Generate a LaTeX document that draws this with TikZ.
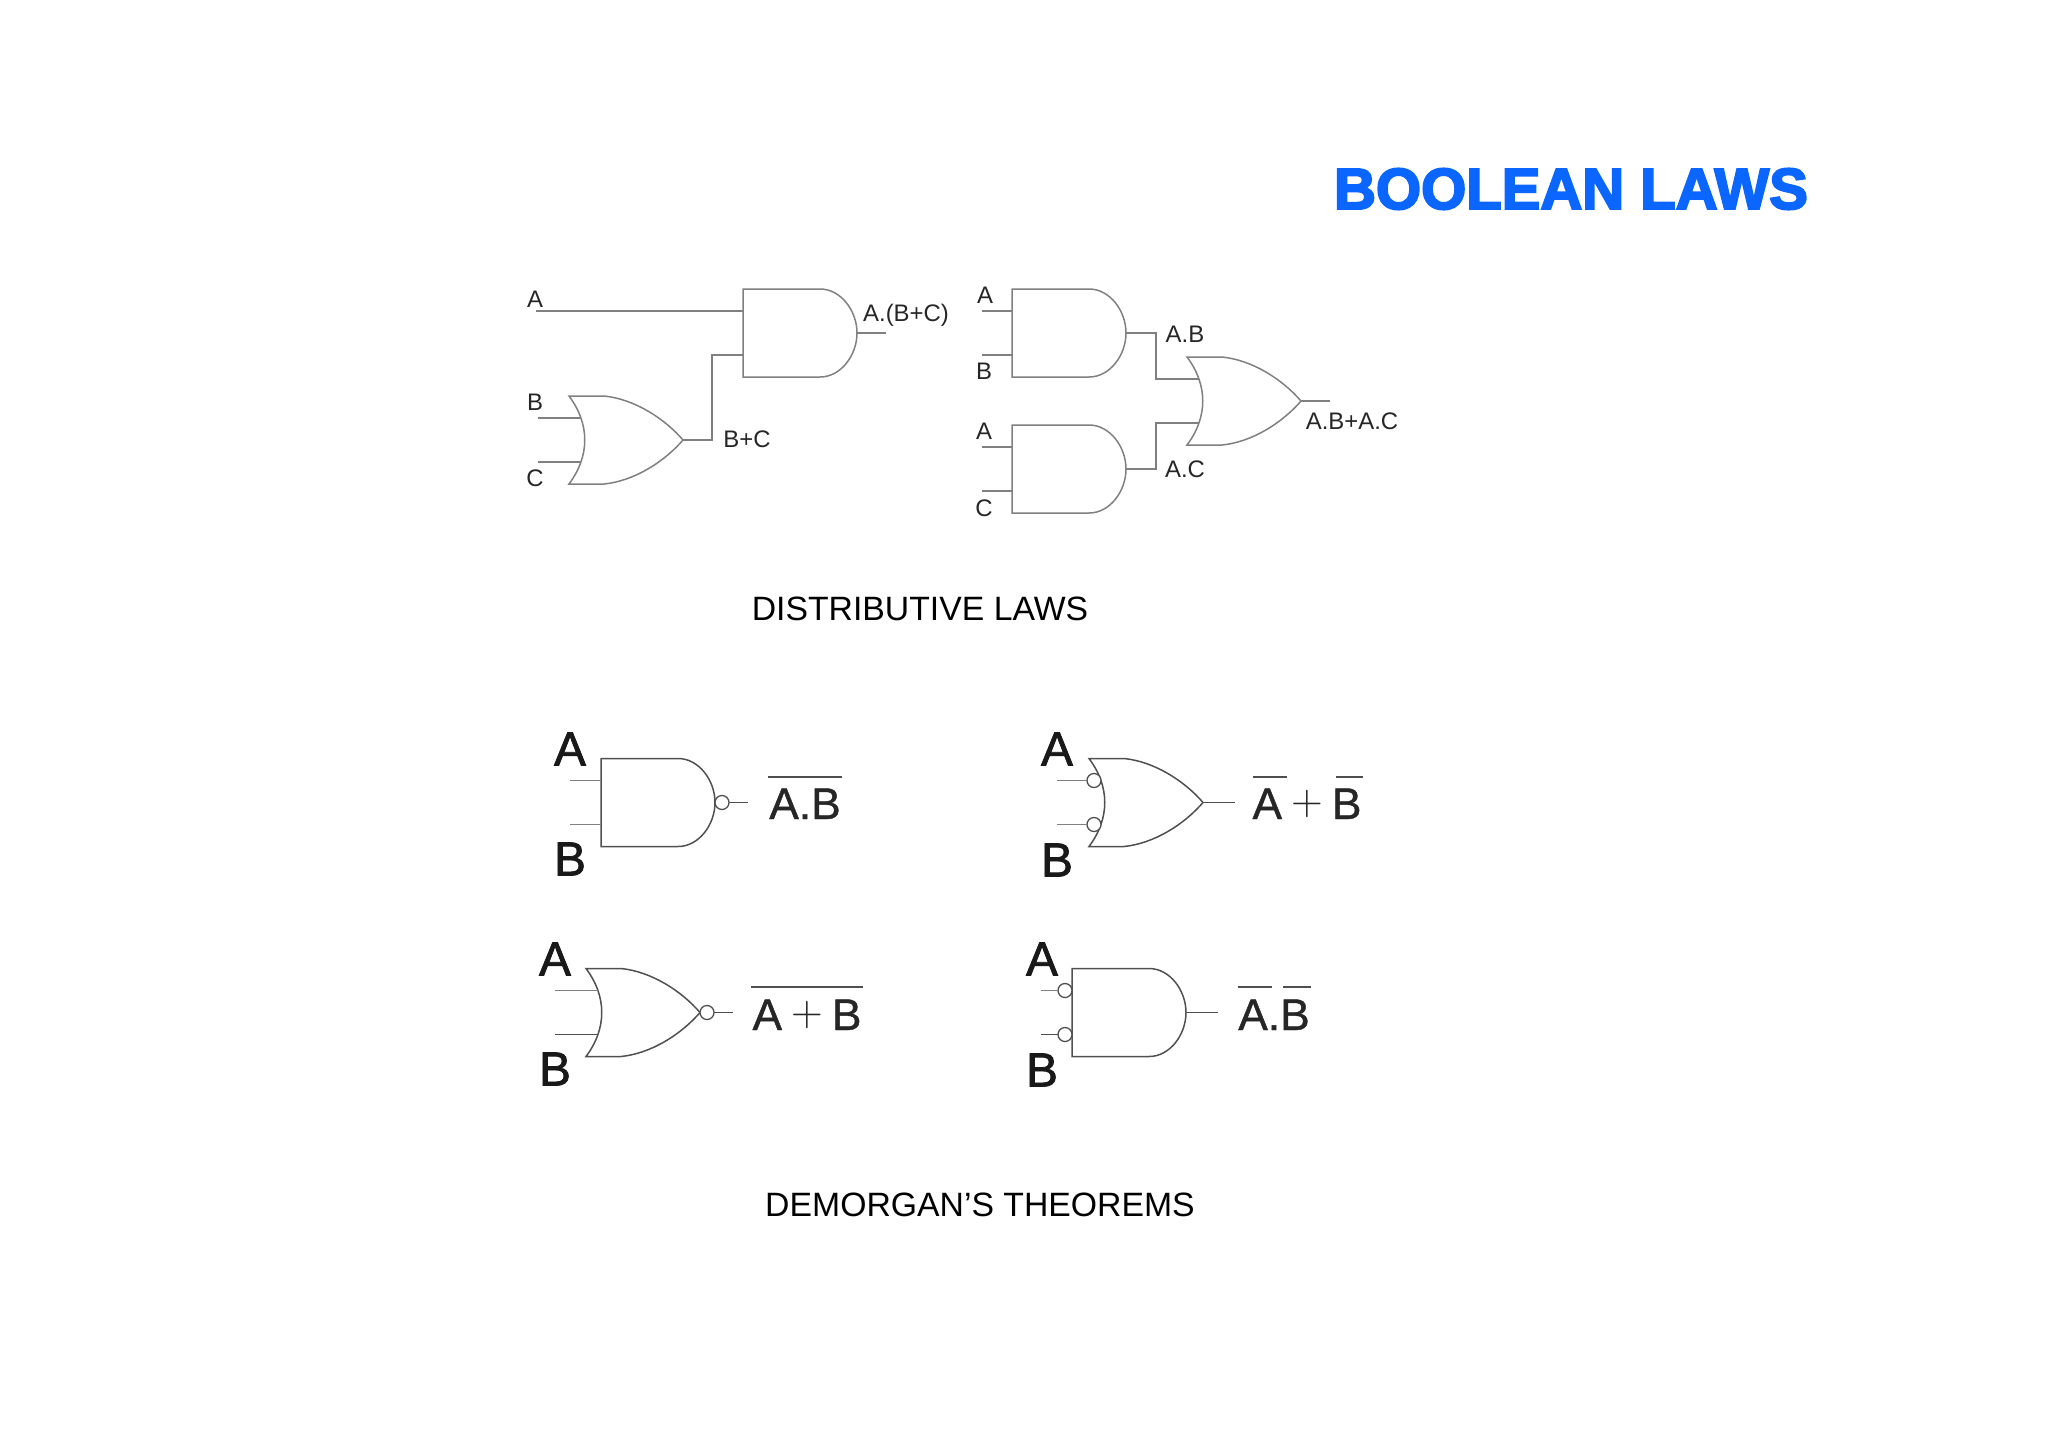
\documentclass[tikz,border=0pt]{standalone}
\usepackage{fontspec}
\setmainfont{Liberation Sans}
\newfontfamily\fatfont[FakeBold=1.6]{Liberation Sans}
\newfontfamily\eqfont[FakeBold=1]{Liberation Sans}
\newfontfamily\titlefont[FakeBold=3.5]{Liberation Sans Bold}
\definecolor{titleblue}{HTML}{0A66FF}
\definecolor{wirecol}{HTML}{808080}
\definecolor{wiredark}{HTML}{505050}
\tikzset{
  wire/.style={draw=wirecol,line width=1.5*.2845pt},
  wirek/.style={draw=wiredark,line width=1.5*.2845pt},
  bar/.style={draw=wiredark,line width=2*.2845pt},
  bubble/.style={circle,draw=wiredark,fill=white,line width=1.3*.2845pt,minimum size=.14cm,inner sep=0pt,outer sep=0pt},
  smalltxt/.style={inner sep=0pt,outer sep=0pt,text=black!85,font=\fontsize{6.8}{8}\selectfont},
  bigtxt/.style={inner sep=0pt,outer sep=0pt,text=black!90,font=\fatfont\fontsize{13.6}{16}\selectfont},
  eqtxt/.style={inner sep=0pt,outer sep=0pt,anchor=base,text=black!85,font=\eqfont\fontsize{12.6}{15}\selectfont},
  captxt/.style={inner sep=0pt,outer sep=0pt,font=\fontsize{9.6}{12}\selectfont},
  andgate/.pic={
    \draw[pic actions] (0,0) -- (77,0) .. controls (98,0) and (114,22) .. (114,44) .. controls (114,66) and (98,88) .. (77,88) -- (0,88) -- cycle;
    \coordinate (-in1) at (0,22);
    \coordinate (-in2) at (0,66);
    \coordinate (-out) at (114,44);
  },
  orgate/.pic={
    \draw[pic actions] (0,0) -- (35,0) .. controls (65,3) and (95,22) .. (114,44) .. controls (95,66) and (65,85) .. (35,88) -- (0,88) .. controls (21,60) and (21,28) .. cycle;
    \coordinate (-in1) at (12,22);
    \coordinate (-in2) at (12,66);
    \coordinate (-out) at (114,44);
  }
}
\newcommand{\thinplus}{\hspace{.2em}\raisebox{.1em}{$+$}\hspace{.2em}}
\begin{document}
\begin{tikzpicture}[x=.01cm,y=-.01cm]
\useasboundingbox (0,0) rectangle (2048,1448);

\node[inner sep=0pt,text=titleblue,font=\titlefont\fontsize{16.5}{20}\selectfont] (title) at (1571,189) {BOOLEAN LAWS};

\pic[wire] (andA) at (743,289) {andgate};
\pic[wire] (orA) at (569,396) {orgate};
\coordinate (freeA) at (536,311); \draw[wire] (freeA) -- (andA-in1);
\coordinate (freeB) at (538,418); \draw[wire] (freeB) -- (orA-in1);
\coordinate (freeC) at (538,462); \draw[wire] (freeC) -- (orA-in2);
\coordinate (freeY) at (886,333); \draw[wire] (andA-out) -- (freeY);
\draw[wire] (orA-out) -- ++(29,0) |- (andA-in2);
\node[smalltxt] (lblA) at (535,299) {A};
\node[smalltxt] (lblB) at (535,402) {B};
\node[smalltxt] (lblC) at (535,478) {C};
\node[smalltxt] (lblY) at (906,315) {A.(B+C)};
\node[smalltxt] (lblBC) at (747,439) {B+C};

\pic[wire] (andB) at (1012,289) {andgate};
\pic[wire] (andC) at (1012,425) {andgate};
\pic[wire] (orB) at (1187,357) {orgate};
\coordinate (freeD) at (982,311); \draw[wire] (freeD) -- (andB-in1);
\coordinate (freeE) at (982,355); \draw[wire] (freeE) -- (andB-in2);
\coordinate (freeF) at (982,447); \draw[wire] (freeF) -- (andC-in1);
\coordinate (freeG) at (982,491); \draw[wire] (freeG) -- (andC-in2);
\coordinate (freeZ) at (1330,401); \draw[wire] (orB-out) -- (freeZ);
\draw[wire] (andB-out) -- ++(30,0) |- (orB-in1);
\draw[wire] (andC-out) -- ++(30,0) |- (orB-in2);
\node[smalltxt] (lblD) at (985,295) {A};
\node[smalltxt] (lblE) at (984,371) {B};
\node[smalltxt] (lblF) at (984,431) {A};
\node[smalltxt] (lblG) at (984,508) {C};
\node[smalltxt] (lblAB) at (1185,334) {A.B};
\node[smalltxt] (lblAC) at (1185,469) {A.C};
\node[smalltxt] (lblZ) at (1352,421) {A.B+A.C};

\node[captxt] (capA) at (920,609) {DISTRIBUTIVE LAWS};

\pic[wirek] (nand) at (601,758.5) {andgate};
\node[bubble,anchor=west] (bubN) at (nand-out) {};
\coordinate (freeH) at (570,780.5); \draw[wire] (freeH) -- (nand-in1);
\coordinate (freeI) at (570,824.5); \draw[wire] (freeI) -- (nand-in2);
\coordinate (freeN) at (748,802.5); \draw[wirek] (bubN) -- (freeN);
\node[bigtxt] (lblH) at (570,749) {A};
\node[bigtxt] (lblI) at (570,859) {B};
\node[eqtxt] (eqN) at (805,819) {A.B};
\draw[bar] (768,777) -- (842,777);

\pic[wirek] (nor) at (586,968.5) {orgate};
\node[bubble,anchor=west] (bubR) at (nor-out) {};
\coordinate (freeJ) at (555,990.5); \draw[wire] (freeJ) -- (nor-in1);
\coordinate (freeK) at (555,1034.5); \draw[wirek] (freeK) -- (nor-in2);
\coordinate (freeR) at (733,1012.5); \draw[wirek] (bubR) -- (freeR);
\node[bigtxt] (lblJ) at (555,959) {A};
\node[bigtxt] (lblK) at (555,1069) {B};
\node[eqtxt] (eqR) at (807,1030) {A\thinplus B};
\draw[bar] (751,987) -- (863,987);

\pic[wirek] (orC) at (1089,758.5) {orgate};
\node[bubble,anchor=east] (bubP) at (orC-in1) {};
\node[bubble,anchor=east] (bubQ) at (orC-in2) {};
\coordinate (freeL) at (1057,780.5); \draw[wire] (freeL) -- (bubP);
\coordinate (freeM) at (1057,824.5); \draw[wire] (freeM) -- (bubQ);
\coordinate (freeS) at (1235,802.5); \draw[wirek] (orC-out) -- (freeS);
\node[bigtxt] (lblL) at (1057,749) {A};
\node[bigtxt] (lblM) at (1057,860) {B};
\node[eqtxt] (eqS) at (1307,819) {A\thinplus B};
\draw[bar] (1253,777) -- (1287,777);
\draw[bar] (1336,777) -- (1363,777);

\pic[wirek] (andD) at (1072,968.5) {andgate};
\node[bubble,anchor=east] (bubT) at (andD-in1) {};
\node[bubble,anchor=east] (bubU) at (andD-in2) {};
\coordinate (freeO) at (1041,990.5); \draw[wire] (freeO) -- (bubT);
\coordinate (freeV) at (1041,1034.5); \draw[wirek] (freeV) -- (bubU);
\coordinate (freeW) at (1218,1012.5); \draw[wirek] (andD-out) -- (freeW);
\node[bigtxt] (lblO) at (1042,959) {A};
\node[bigtxt] (lblV) at (1042,1070) {B};
\node[eqtxt] (eqT) at (1274,1030) {A.B};
\draw[bar] (1238,987) -- (1272,987);
\draw[bar] (1283,987) -- (1311,987);

\node[captxt] (capB) at (980,1205) {DEMORGAN’S THEOREMS};
\end{tikzpicture}
\end{document}
